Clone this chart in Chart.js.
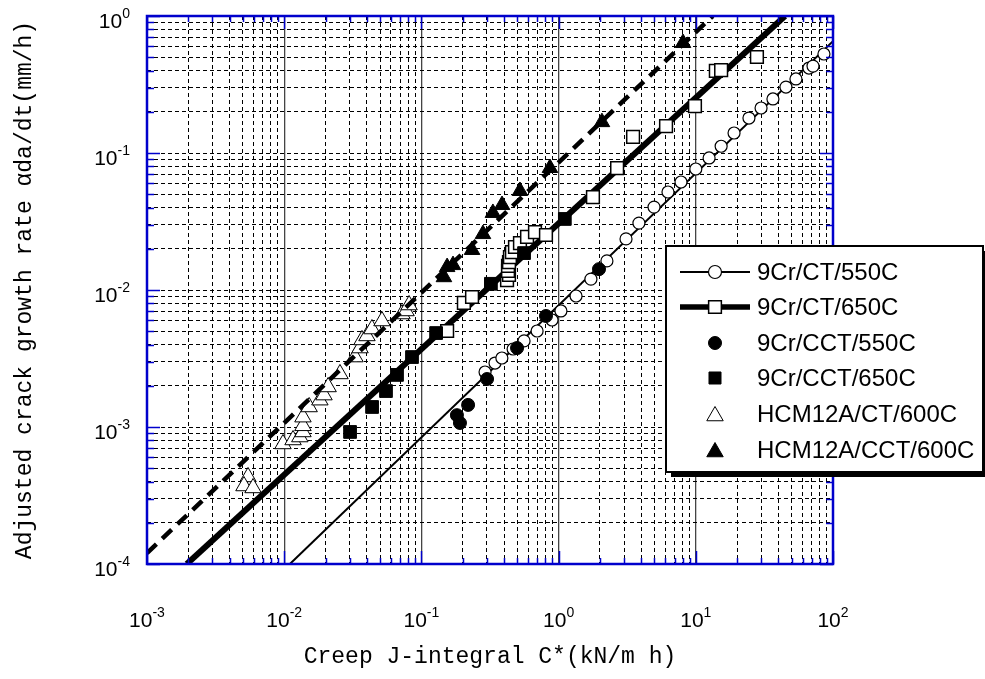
<!DOCTYPE html>
<html><head><meta charset="utf-8">
<script src="https://cdn.jsdelivr.net/npm/chart.js@4/dist/chart.umd.min.js"></script>
<style>html,body{margin:0;padding:0;background:#fff;}canvas{display:block;}</style>
</head><body>
<canvas id="c" width="985" height="679"></canvas>
<script>
// ---- data ----
const xTitle = 'Creep J-integral C*(kN/m h)';
const yTitle = 'Adjusted crack growth rate \u03b1da/dt(mm/h)';
const xTickExps = ['-3','-2','-1','0','1','2'];
const yTickExps = ['-4','-3','-2','-1','0'];
const tickBase = '10';

const seriesNames = ['9Cr/CT/550C','9Cr/CT/650C','9Cr/CCT/550C','9Cr/CCT/650C','HCM12A/CT/600C','HCM12A/CCT/600C'];

const cr550ctX = [0.291,0.344,0.386,0.466,0.560,0.697,0.896,1.04,1.34,1.72,2.25,3.10,3.85,4.96,6.27,7.80,10.0,12.5,15.3,19.0,24.4,29.9,36.5,45.4,53.7,66.8,71.5,85.9];
const cr550ctY = [0.00252,0.00293,0.00319,0.00371,0.00425,0.00502,0.00604,0.00703,0.00904,0.0120,0.0163,0.0236,0.0308,0.0403,0.0519,0.0614,0.0764,0.0920,0.112,0.140,0.180,0.213,0.248,0.303,0.347,0.417,0.431,0.528];

const cr650ctX = [0.154,0.204,0.234,0.421,0.435,0.428,0.428,0.435,0.442,0.457,0.481,0.523,0.589,0.673,0.809,1.78,2.67,3.49,6.07,9.86,14.0,15.3,27.9];
const cr650ctY = [0.00502,0.00804,0.00889,0.0118,0.0129,0.0138,0.0150,0.0160,0.0174,0.0189,0.0206,0.0220,0.0244,0.0265,0.0252,0.0477,0.0777,0.131,0.157,0.220,0.397,0.403,0.502];

const cr550cctX = [0.1815,0.191,0.219,0.301,0.498,0.809,1.97];
const cr550cctY = [0.00122,0.00107,0.00145,0.00224,0.00377,0.00646,0.0142];

const cr650cctX = [0.0302,0.0437,0.0552,0.0664,0.0854,0.128,0.321,0.560,1.11];
const cr650cctY = [0.00092,0.00140,0.00183,0.00240,0.00324,0.00485,0.0111,0.0186,0.0330];

const hcmCtX = [0.00545,0.00509,0.00593,0.0098,0.0116,0.0130,0.0137,0.0137,0.0137,0.0152,0.0182,0.0195,0.0209,0.0255,0.0328,0.0357,0.0369,0.0401,0.0436,0.0516,0.0722,0.0773,0.0813];
const hcmCtY = [0.000432,0.000371,0.000359,0.000752,0.000804,0.000845,0.00092,0.00102,0.00118,0.00140,0.00157,0.00171,0.00196,0.00244,0.00324,0.00377,0.00432,0.00462,0.00519,0.00594,0.00668,0.00703,0.00777];

const hcmCctX = [8.07,2.07,0.865,0.523,0.387,0.332,0.281,0.234,0.170,0.154,0.146];
const hcmCctY = [0.635,0.168,0.0777,0.0528,0.0417,0.0365,0.0256,0.0196,0.0152,0.0147,0.0124];

// fitted lines (end points)
const fit550X = [0.011, 100];
const fit550Y = [0.0001, 0.655];
const fit650X = [0.00195, 44.7];
const fit650Y = [0.0001, 1];
const fitHcmX = [0.001, 13.3];
const fitHcmY = [0.00012, 1];

// ---- helpers ----
const BLUE = '#0000cc';
const pts = (xs, ys) => xs.map((v, i) => ({x: v, y: ys[i]}));
const isDecade = v => Math.abs(Math.log10(v) - Math.round(Math.log10(v))) < 1e-6;
function logTicks(minE, maxE) {
  const t = [];
  for (let e = minE; e < maxE; e++) for (let m = 1; m < 10; m++) t.push({value: m * Math.pow(10, e)});
  t.push({value: Math.pow(10, maxE)});
  return t;
}

function marker(ctx, style, x, y, r, fill, lw) {
  ctx.save();
  ctx.beginPath();
  if (style === 'circle') ctx.arc(x, y, r, 0, Math.PI * 2);
  else if (style === 'rect') { const s = r * Math.SQRT1_2; ctx.rect(x - s, y - s, 2 * s, 2 * s); }
  else if (style === 'triangle') {
    ctx.moveTo(x, y - r);
    ctx.lineTo(x + Math.sin(Math.PI * 2 / 3) * r, y - Math.cos(Math.PI * 2 / 3) * r);
    ctx.lineTo(x - Math.sin(Math.PI * 2 / 3) * r, y - Math.cos(Math.PI * 2 / 3) * r);
    ctx.closePath();
  }
  ctx.fillStyle = fill; ctx.fill();
  ctx.lineWidth = lw; ctx.strokeStyle = '#000'; ctx.stroke();
  ctx.restore();
}

const decor = {
  id: 'decor',
  afterDraw(chart) {
    const {ctx, chartArea: a, scales: {x, y}} = chart;
    ctx.save();
    // blue inner ticks
    ctx.strokeStyle = BLUE; ctx.lineWidth = 1.5;
    const seg = (x1, y1, x2, y2) => { ctx.beginPath(); ctx.moveTo(x1, y1); ctx.lineTo(x2, y2); ctx.stroke(); };
    x.ticks.forEach(t => {
      const p = Math.round(x.getPixelForValue(t.value)) + 0.5;
      const L = isDecade(t.value) ? 13 : 6;
      seg(p, a.bottom, p, a.bottom - L); seg(p, a.top, p, a.top + L);
    });
    y.ticks.forEach(t => {
      const p = Math.round(y.getPixelForValue(t.value)) + 0.5;
      const L = isDecade(t.value) ? 13 : 7;
      seg(a.left, p, a.left + L, p); seg(a.right, p, a.right - L, p);
    });
    // frame
    ctx.lineWidth = 2.5;
    ctx.strokeRect(a.left, a.top, a.right - a.left, a.bottom - a.top);

    // tick labels 10^n
    const bigF = '21px "Liberation Sans", Arial, sans-serif';
    const supF = '14px "Liberation Sans", Arial, sans-serif';
    ctx.fillStyle = '#000'; ctx.textBaseline = 'alphabetic'; ctx.textAlign = 'left';
    xTickExps.forEach(e => {
      const p = x.getPixelForValue(Math.pow(10, +e));
      ctx.font = bigF; const w1 = ctx.measureText(tickBase).width;
      ctx.font = supF; const w2 = ctx.measureText(e).width;
      const sx = p - (w1 + w2) / 2;
      ctx.font = bigF; ctx.fillText(tickBase, sx, 627);
      ctx.font = supF; ctx.fillText(e, sx + w1, 617);
    });
    yTickExps.forEach(e => {
      const p = y.getPixelForValue(Math.pow(10, +e));
      ctx.font = bigF; const w1 = ctx.measureText(tickBase).width;
      ctx.font = supF; const w2 = ctx.measureText(e).width;
      const sx = 130 - w1 - w2;
      ctx.font = bigF; ctx.fillText(tickBase, sx, p + 12);
      ctx.font = supF; ctx.fillText(e, sx + w1, p + 2);
    });

    // legend
    const bx = 666, by = 246, bw = 317, bh = 226;
    ctx.fillStyle = '#000';
    ctx.fillRect(bx + 5, by + 5, bw, bh);
    ctx.fillStyle = '#fff';
    ctx.fillRect(bx, by, bw, bh);
    ctx.lineWidth = 2; ctx.strokeStyle = '#000';
    ctx.strokeRect(bx, by, bw, bh);
    const rows = [272, 307, 343, 378, 414, 450];
    const legendDefs = [
      {line: 2, style: 'circle', r: 6.5, fill: '#fff', lw: 1.2},
      {line: 5.5, style: 'rect', r: 9, fill: '#fff', lw: 1.5},
      {line: 0, style: 'circle', r: 6.5, fill: '#000', lw: 1},
      {line: 0, style: 'rect', r: 8.5, fill: '#000', lw: 1},
      {line: 0, style: 'triangle', r: 9.5, fill: '#fff', lw: 1},
      {line: 0, style: 'triangle', r: 9.5, fill: '#000', lw: 1}
    ];
    legendDefs.forEach((d, i) => {
      const ry = rows[i];
      if (d.line) {
        ctx.lineWidth = d.line; ctx.strokeStyle = '#000';
        seg(680, ry, 750, ry);
      }
      marker(ctx, d.style, 715, d.style === 'triangle' ? ry + 2 : ry, d.r, d.fill, d.lw);
      ctx.fillStyle = '#000';
      ctx.font = '24px "Liberation Sans", Arial, sans-serif';
      ctx.textBaseline = 'middle';
      ctx.fillText(seriesNames[i], 757, ry + 1);
    });
    ctx.restore();
  }
};

const scatterDs = (label, xs, ys, style, r, fill, lw, order) => ({
  label, data: pts(xs, ys), showLine: false,
  pointStyle: style, pointRadius: r, pointHoverRadius: r,
  pointBackgroundColor: fill, pointBorderColor: '#000', pointBorderWidth: lw,
  order
});
const lineDs = (label, xs, ys, w, dash, order) => ({
  label, data: pts(xs, ys), showLine: true, pointRadius: 0, pointHoverRadius: 0,
  borderColor: '#000', borderWidth: w, borderDash: dash, borderCapStyle: 'butt',
  backgroundColor: '#000', fill: false, order
});

new Chart(document.getElementById('c'), {
  type: 'scatter',
  data: {
    datasets: [
      scatterDs(seriesNames[5], hcmCctX, hcmCctY, 'triangle', 9, '#000', 1, 0),
      scatterDs(seriesNames[3], cr650cctX, cr650cctY, 'rect', 9, '#000', 1, 0),
      scatterDs(seriesNames[2], cr550cctX, cr550cctY, 'circle', 6.5, '#000', 1, 0),
      lineDs('fit HCM12A', fitHcmX, fitHcmY, 4.5, [13, 8], 1),
      scatterDs(seriesNames[4], hcmCtX, hcmCtY, 'triangle', 9.5, '#fff', 1, 2),
      scatterDs(seriesNames[1], cr650ctX, cr650ctY, 'rect', 9, '#fff', 1.5, 2),
      scatterDs(seriesNames[0], cr550ctX, cr550ctY, 'circle', 6, '#fff', 1.2, 2),
      lineDs('fit 9Cr 650C', fit650X, fit650Y, 6, [], 3),
      lineDs('fit 9Cr 550C', fit550X, fit550Y, 2, [], 3)
    ]
  },
  options: {
    responsive: false,
    animation: false,
    events: [],
    layout: {padding: {top: 16, right: 152, bottom: 0, left: 0}},
    plugins: {legend: {display: false}, tooltip: {enabled: false}},
    scales: {
      x: {
        type: 'logarithmic', position: 'bottom', min: 0.001, max: 100,
        afterBuildTicks: s => { s.ticks = logTicks(-3, 2); },
        afterFit: s => { s.height = 115; },
        ticks: {display: false},
        grid: {
          drawTicks: false,
          color: c => (c.tick && isDecade(c.tick.value)) ? '#444' : '#000',
          lineWidth: c => (c.tick && isDecade(c.tick.value)) ? 1.3 : 1
        },
        border: {display: false, dash: c => (c.tick && isDecade(c.tick.value)) ? [] : [4, 3]},
        title: {display: true, text: xTitle, color: '#000',
          font: {family: '"Liberation Mono", "DejaVu Sans Mono", monospace', size: 23, weight: 'normal'},
          padding: {top: 0, bottom: 8}}
      },
      y: {
        type: 'logarithmic', position: 'left', min: 0.0001, max: 1,
        afterBuildTicks: s => { s.ticks = logTicks(-4, 0); },
        afterFit: s => { s.width = 147; },
        ticks: {display: false},
        grid: {drawTicks: false, color: '#000', lineWidth: 1},
        border: {display: false, dash: [4, 3]},
        title: {display: true, text: yTitle, color: '#000',
          font: {family: '"Liberation Mono", "DejaVu Sans Mono", monospace', size: 23, weight: 'normal'},
          padding: {top: 11, bottom: 0}}
      }
    }
  },
  plugins: [decor]
});
</script>
</body></html>
